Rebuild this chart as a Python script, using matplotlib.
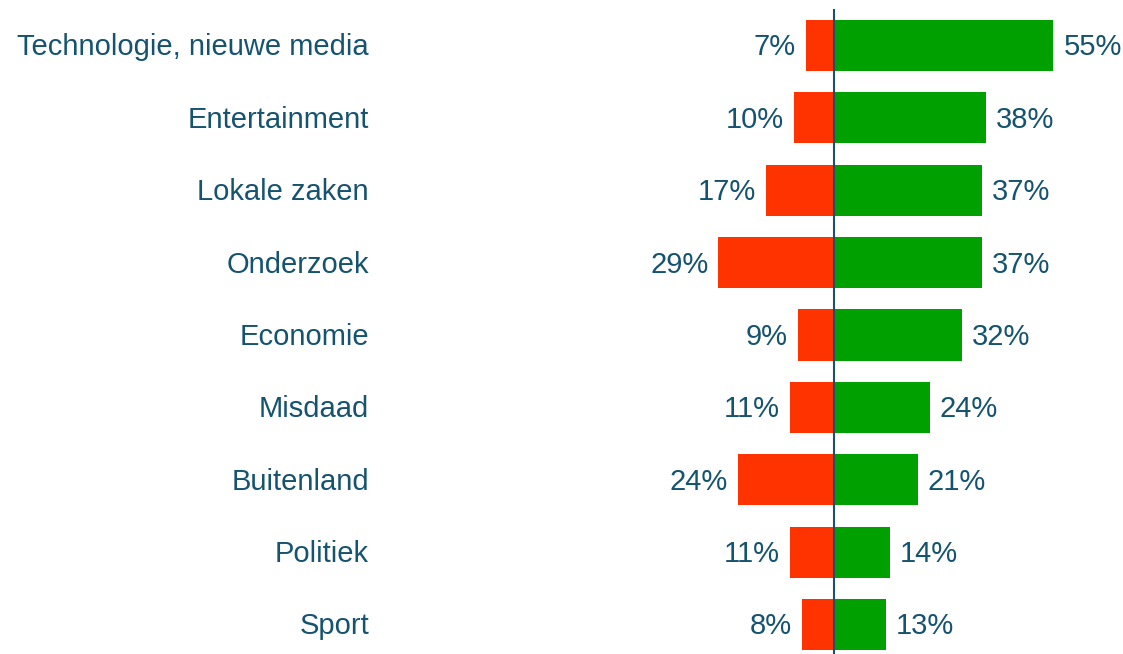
import matplotlib
matplotlib.use("Agg")
import matplotlib.pyplot as plt

categories = ["Technologie, nieuwe media", "Entertainment", "Lokale zaken", "Onderzoek",
              "Economie", "Misdaad", "Buitenland", "Politiek", "Sport"]
negative = [7, 10, 17, 29, 9, 11, 24, 11, 8]
positive = [55, 38, 37, 37, 32, 24, 21, 14, 13]

W, H = 1123, 654
fig = plt.figure(figsize=(W / 100, H / 100), dpi=100)
ax = fig.add_axes([0, 0, 1, 1])

cx = 834.0
ppu = 3.99
row0 = 45.5
rowstep = 72.375
ax.set_xlim(-cx / ppu, (W - cx) / ppu)
ax.set_ylim((H - row0) / rowstep, -row0 / rowstep)
ax.axis("off")

txt = "#15536F"
fs = 21
font = "Liberation Sans"
ys = list(range(len(categories)))
ax.barh(ys, [-v for v in negative], height=0.705, color="#FF3300", linewidth=0)
ax.barh(ys, positive, height=0.705, color="#00A000", linewidth=0)
ax.plot([0, 0], [-0.49, (H - row0) / rowstep], color="#1F4E6E", lw=1.5, zorder=3)

gap = 10 / ppu
label_x = (369 - cx) / ppu
boff = 10 / rowstep
for y, c, n, p in zip(ys, categories, negative, positive):
    ax.text(label_x, y + boff, c, ha="right", va="baseline", fontsize=fs, color=txt, family=font)
    ax.text(-n - gap, y + boff, f"{n}%", ha="right", va="baseline", fontsize=fs, color=txt, family=font)
    ax.text(p + gap, y + boff, f"{p}%", ha="left", va="baseline", fontsize=fs, color=txt, family=font)

fig.savefig("out.png", dpi=100)
